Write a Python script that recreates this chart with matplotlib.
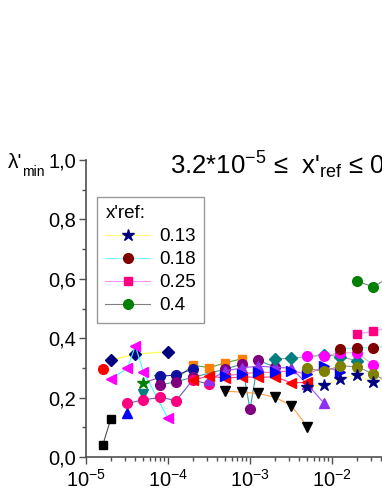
import numpy as np
import matplotlib
matplotlib.use('Agg')
import matplotlib.pyplot as plt
from matplotlib.ticker import MultipleLocator, FuncFormatter, LogLocator

plt.rcParams['font.family'] = ['Liberation Sans', 'DejaVu Sans']
plt.rcParams['mathtext.fontset'] = 'custom'
plt.rcParams['mathtext.rm'] = 'Liberation Sans'
plt.rcParams['mathtext.it'] = 'Liberation Sans:italic'

# legend series (x'ref)
x_013 = [5e-3, 8e-3, 1.26e-2, 2e-2, 3.2e-2, 5e-2]
y_013 = [0.236, 0.242, 0.262, 0.277, 0.251, 0.27]
x_018 = [1.26e-2, 2e-2, 3.2e-2, 5e-2]
y_018 = [0.364, 0.368, 0.368, 0.375]
x_025 = [2e-2, 3.2e-2, 5e-2]
y_025 = [0.413, 0.424, 0.435]
x_04 = [2e-2, 3.2e-2, 5e-2]
y_04 = [0.592, 0.573, 0.605]

# other series
x_blk_sq = [1.6e-5, 2e-5]
y_blk_sq = [0.04, 0.127]
x_red_c = [1.6e-5]
y_red_c = [0.297]
x_navy_d = [2e-5, 4e-5, 1e-4]
y_navy_d = [0.326, 0.346, 0.355]
x_mag_lt = [2e-5, 3.2e-5, 4e-5, 5e-5, 1e-4]
y_mag_lt = [0.262, 0.299, 0.374, 0.287, 0.13]
x_blue_up = [3.2e-5]
y_blue_up = [0.149]
x_teal_dn = [5e-5]
y_teal_dn = [0.211]
x_pink_c = [3.2e-5, 5e-5, 8e-5, 1.26e-4, 2e-4, 3.2e-4]
y_pink_c = [0.181, 0.192, 0.201, 0.19, 0.259, 0.245]
x_grn_st = [5e-5, 8e-5]
y_grn_st = [0.25, 0.268]
x_navy_c = [8e-5, 1.26e-4, 2e-4]
y_navy_c = [0.272, 0.276, 0.296]
x_purp_c = [8e-5, 1.26e-4, 2e-4, 5e-4, 8e-4, 1e-3, 1.26e-3, 2e-3]
y_purp_c = [0.242, 0.254, 0.268, 0.296, 0.313, 0.16, 0.325, 0.304]
x_org_sq = [1.26e-4, 2e-4, 3.2e-4, 5e-4, 8e-4]
y_org_sq = [0.262, 0.309, 0.301, 0.317, 0.331]
x_vio_up = [3.2e-4, 5e-4, 8e-4, 1.26e-3, 2e-3, 3.2e-3, 5e-3, 8e-3]
y_vio_up = [0.259, 0.29, 0.30, 0.306, 0.302, 0.299, 0.245, 0.181]
x_red_lt = [2e-4, 3.2e-4, 5e-4, 8e-4, 1.26e-3, 2e-3, 3.2e-3, 5e-3]
y_red_lt = [0.259, 0.273, 0.265, 0.27, 0.268, 0.27, 0.25, 0.251]
x_blue_rt = [5e-4, 8e-4, 1.26e-3, 2e-3, 3.2e-3, 5e-3, 8e-3, 1.26e-2]
y_blue_rt = [0.273, 0.28, 0.285, 0.285, 0.291, 0.278, 0.305, 0.287]
x_teal_d = [2e-3, 3.2e-3, 8e-3, 1.26e-2, 2e-2]
y_teal_d = [0.331, 0.332, 0.345, 0.338, 0.324]
x_fuch = [5e-3, 8e-3, 1.26e-2, 2e-2, 3.2e-2]
y_fuch = [0.34, 0.34, 0.351, 0.351, 0.31]
x_olive = [5e-3, 8e-3, 1.26e-2, 2e-2, 3.2e-2, 5e-2]
y_olive = [0.299, 0.288, 0.307, 0.304, 0.28, 0.25]
x_blk_dn = [5e-4, 8e-4, 1.26e-3, 2e-3, 3.2e-3, 5e-3]
y_blk_dn = [0.222, 0.218, 0.214, 0.201, 0.173, 0.102]

fig = plt.figure(figsize=(3.82, 4.94), dpi=100)
# axes runs to the right edge of the picture (the plot is cut there)
ax = fig.add_axes([86 / 382, 37 / 494, 296 / 382, 297 / 494])

lw = 0.8
ms = 7
ax.plot(x_blk_sq, y_blk_sq, '-', color='#505050', lw=lw, marker='s', mfc='black', mec='black', ms=6)
ax.plot(x_red_c, y_red_c, 'o', color='#ff0000', ms=ms)
ax.plot(x_navy_d, y_navy_d, '-', color='#ffff40', lw=lw, marker='D', mfc='#000080', mec='#000080', ms=6)
ax.plot(x_mag_lt, y_mag_lt, '-', color='#40ffff', lw=lw, marker='<', mfc='#ff00ff', mec='#ff00ff', ms=7.5)
ax.plot(x_blue_up, y_blue_up, '^', color='#0000ff', ms=ms)
ax.plot(x_teal_dn, y_teal_dn, 'v', color='#008080', ms=7.5)
ax.plot(x_org_sq, y_org_sq, '-', color='#50a050', lw=lw, marker='s', mfc='#ff8000', mec='#ff8000', ms=6)
ax.plot(x_grn_st, y_grn_st, '-', color='#a050a0', lw=lw, marker='*', mfc='#008000', mec='#008000', ms=9)
ax.plot(x_navy_c, y_navy_c, '-', color='#303090', lw=lw, marker='o', mfc='#1010a0', mec='#1010a0', ms=ms)
ax.plot(x_purp_c, y_purp_c, '-', color='#40a0a0', lw=lw, marker='o', mfc='#800080', mec='#800080', ms=ms)
ax.plot(x_pink_c, y_pink_c, '-', color='#6060c0', lw=lw, marker='o', mfc='#ff0080', mec='#ff0080', ms=ms)
ax.plot(x_vio_up, y_vio_up, '-', color='#a050ff', lw=lw, marker='^', mfc='#9030f0', mec='#9030f0', ms=ms)
ax.plot(x_red_lt, y_red_lt, '-', color='#ff4080', lw=lw, marker='<', mfc='#ff0000', mec='#ff0000', ms=7.5)
ax.plot(x_blue_rt, y_blue_rt, '-', color='#ff60c0', lw=lw, marker='>', mfc='#0000ff', mec='#0000ff', ms=7.5)
ax.plot(x_blk_dn, y_blk_dn, '-', color='#ffa040', lw=lw, marker='v', mfc='black', mec='black', ms=7.5)
ax.plot(x_teal_d, y_teal_d, '-', color='#a0a0a0', lw=lw, marker='D', mfc='#008080', mec='#008080', ms=6)
ax.plot(x_fuch, y_fuch, '-', color='#c0c0c0', lw=lw, marker='o', mfc='#ff00ff', mec='#ff00ff', ms=ms)
ax.plot(x_olive, y_olive, '-', color='#909090', lw=lw, marker='o', mfc='#808000', mec='#808000', ms=ms)

h1, = ax.plot(x_013, y_013, '-', color='#ffff80', lw=lw, marker='*', mfc='#000080', mec='#000080', ms=9, label='0.13')
h2, = ax.plot(x_018, y_018, '-', color='#80ffff', lw=lw, marker='o', mfc='#800000', mec='#800000', ms=ms, label='0.18')
h3, = ax.plot(x_025, y_025, '-', color='#ff90ff', lw=lw, marker='s', mfc='#ff0080', mec='#ff0080', ms=6, label='0.25')
h4, = ax.plot(x_04, y_04, '-', color='#808080', lw=lw, marker='o', mfc='#008000', mec='#008000', ms=ms, label='0.4')

ax.set_xscale('log')
ax.set_xlim(1e-5, 10 ** (-5 + 296 / 82))
ax.set_ylim(0, 1.0)
ax.yaxis.set_major_locator(MultipleLocator(0.2))
ax.yaxis.set_minor_locator(MultipleLocator(0.1))
ax.yaxis.set_major_formatter(FuncFormatter(lambda v, p: f'{v:.1f}'.replace('.', ',')))
ax.xaxis.set_minor_locator(LogLocator(base=10, subs=np.arange(2, 10)))

for s in ['top', 'right']:
    ax.spines[s].set_visible(False)
for s in ['left', 'bottom']:
    ax.spines[s].set_color('#505050')
    ax.spines[s].set_linewidth(1.2)
ax.tick_params(which='major', direction='out', length=5, width=1, color='#505050', labelsize=14.5)
ax.tick_params(which='minor', direction='out', length=3, width=1, color='#505050')
ax.tick_params(axis='y', pad=2)

leg = ax.legend(handles=[h1, h2, h3, h4], title="x'ref:", loc='upper left',
                bbox_to_anchor=(11 / 296, 0.877), borderaxespad=0, fontsize=13.5, title_fontsize=13.5,
                frameon=True, fancybox=False, edgecolor='#808080', handlelength=2.4,
                labelspacing=0.32, borderpad=0.45, handletextpad=0.45)
leg._legend_box.align = 'left'
leg.get_frame().set_linewidth(1)

fig.text(8 / 382, 1 - 163 / 494, "λ'", fontsize=15, va='center', ha='left')
fig.text(22 / 382, 1 - 172 / 494, "min", fontsize=10, va='center', ha='left')
fig.text(170 / 382, 1 - 165 / 494, r"3.2*10$^{-5}$ ≤  x'$_{\rm ref}$ ≤ 0.4", fontsize=18.5,
         va='center', ha='left')

fig.savefig('out.png', dpi=100)
